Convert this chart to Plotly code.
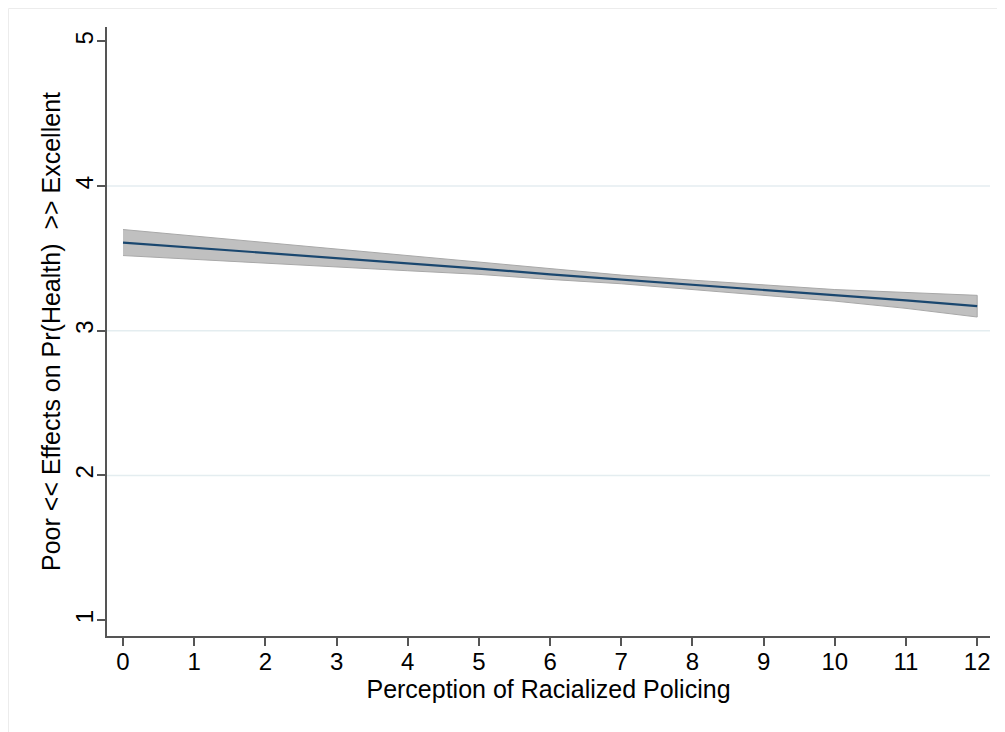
import plotly.graph_objects as go

x_vals = list(range(13))
x_ticks = list(range(13))
y_ticks = [1, 2, 3, 4, 5]
grid_levels = [2, 3, 4]
effect = [3.61, 3.575, 3.54, 3.50, 3.465, 3.43, 3.39, 3.355, 3.32, 3.28, 3.245, 3.21, 3.17]
ci_upper = [3.70, 3.655, 3.61, 3.56, 3.515, 3.47, 3.425, 3.385, 3.35, 3.315, 3.285, 3.265, 3.245]
ci_lower = [3.52, 3.495, 3.47, 3.44, 3.415, 3.39, 3.355, 3.325, 3.29, 3.245, 3.205, 3.155, 3.095]

x_title = "Perception of Racialized Policing"
y_title = "Poor << Effects on Pr(Health)  >> Excellent"

W, H = 997, 724
ML, MR, MT, MB = 99, 15, 19, 96

fig = go.Figure()
fig.add_trace(go.Scatter(
    x=x_vals + x_vals[::-1], y=ci_upper + ci_lower[::-1],
    fill="toself", fillcolor="rgb(192,192,192)",
    line=dict(color="rgb(168,168,168)", width=1),
    mode="lines", hoverinfo="skip", showlegend=False))
fig.add_trace(go.Scatter(
    x=x_vals, y=effect, mode="lines",
    line=dict(color="#1a476f", width=2.2), showlegend=False))

for g in grid_levels:
    fig.add_shape(type="line", xref="paper", yref="y", x0=0, x1=1, y0=g, y1=g,
                  line=dict(color="#e4edf0", width=1.5), layer="below")

font = "Liberation Sans, Arial, Helvetica, sans-serif"
fig.update_layout(
    width=W, height=H,
    margin=dict(l=ML, r=MR, t=MT, b=MB),
    paper_bgcolor="white", plot_bgcolor="white",
    font=dict(family=font, size=24, color="black"),
    xaxis=dict(
        range=[-0.225, 12.18], tickvals=x_ticks, ticktext=[str(v) for v in x_ticks],
        showgrid=False, zeroline=False, automargin=False,
        showline=True, linecolor="#555555", linewidth=2,
        ticks="outside", ticklen=8, tickcolor="#555555", tickwidth=2,
        tickfont=dict(size=24), ticklabelstandoff=-5,
        title=dict(text=x_title, font=dict(size=25), standoff=0)),
    yaxis=dict(
        range=[0.89, 5.10], tickvals=y_ticks, ticktext=[str(v) for v in y_ticks],
        showgrid=False, zeroline=False, automargin=False,
        showline=True, linecolor="#555555", linewidth=2,
        ticks="outside", ticklen=8, tickcolor="#555555", tickwidth=2,
        tickangle=-90, tickfont=dict(size=24), ticklabelstandoff=-6,
        title=dict(text=y_title, font=dict(size=25), standoff=4)),
)
pw = W - ML - MR
ph = H - MT - MB
left_edge = (0.5 - ML) / pw
top_edge = (H - MB - 0.5) / ph
fig.add_shape(type="line", xref="paper", yref="paper", x0=left_edge, x1=left_edge, y0=top_edge, y1=-MB / ph,
              line=dict(color="#ececec", width=1))
fig.add_shape(type="line", xref="paper", yref="paper", x0=left_edge, x1=(W - ML) / pw, y0=top_edge, y1=top_edge,
              line=dict(color="#ececec", width=1))
fig.write_html("out.html")
